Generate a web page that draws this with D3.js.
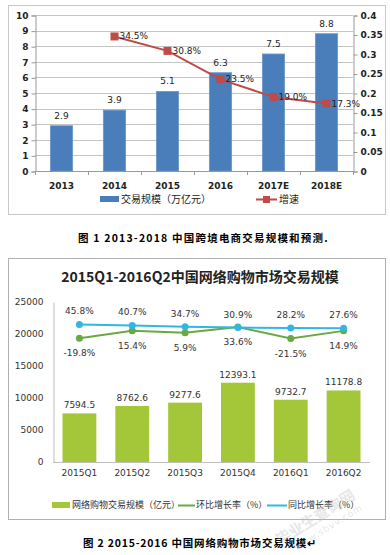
<!DOCTYPE html>
<html>
<head>
<meta charset="utf-8">
<script src="https://cdn.jsdelivr.net/npm/d3@7"></script>
<style>
body { margin: 0; background: #fff; }
svg { display: block; }
text { font-family: "DejaVu Sans", "Noto Sans CJK SC", sans-serif; }
.cjk { font-family: "Noto Sans CJK SC", sans-serif; }
</style>
</head>
<body>
<svg width="390" height="555"></svg>
<script>
// chart 1 data
var years = ["2013", "2014", "2015", "2016", "2017E", "2018E"];
var scale1 = [2.9, 3.9, 5.1, 6.3, 7.5, 8.8];
var growth1 = [null, 0.345, 0.308, 0.235, 0.190, 0.173];
var leftTicks1 = [0, 1, 2, 3, 4, 5, 6, 7, 8, 9, 10];
var rightTicks1 = [0, 0.05, 0.1, 0.15, 0.2, 0.25, 0.3, 0.35, 0.4];

// chart 2 data
var quarters = ["2015Q1", "2015Q2", "2015Q3", "2015Q4", "2016Q1", "2016Q2"];
var scale2 = [7594.5, 8762.6, 9277.6, 12393.1, 9732.7, 11178.8];
var qoq = [-19.8, 15.4, 5.9, 33.6, -21.5, 14.9];
var yoy = [45.8, 40.7, 34.7, 30.9, 28.2, 27.6];
var leftTicks2 = [0, 5000, 10000, 15000, 20000, 25000];

var svg = d3.select("svg");

// ---------- chart 1 ----------
var g1 = svg.append("g");
g1.append("rect").attr("x", 8.5).attr("y", 5.5).attr("width", 377).attr("height", 209)
  .attr("fill", "#fff").attr("stroke", "#c8c8c8");

var x1 = d3.scaleBand().domain(years).range([35, 353]).paddingInner(0.58).paddingOuter(0.29);
var y1 = d3.scaleLinear().domain([0, 10]).range([171, 15]);
var y1r = d3.scaleLinear().domain([0, 0.4]).range([171, 15]);

g1.selectAll(".grid").data(leftTicks1.slice(1)).enter().append("line")
  .attr("x1", 35).attr("x2", 353)
  .attr("y1", function(d) { return Math.round(y1(d)) + 0.5; })
  .attr("y2", function(d) { return Math.round(y1(d)) + 0.5; })
  .attr("stroke", "#c4c4c4");

var axL = g1.append("g").attr("transform", "translate(35.5,0.5)")
  .call(d3.axisLeft(y1).tickValues(leftTicks1).tickSize(4).tickPadding(3));
var axR = g1.append("g").attr("transform", "translate(353.5,0.5)")
  .call(d3.axisRight(y1r).tickValues(rightTicks1).tickSize(4).tickPadding(3)
    .tickFormat(function(d) { return d3.format("~g")(+d.toFixed(2)); }));
[axL, axR].forEach(function(a) {
  a.select(".domain").attr("stroke", "#999");
  a.selectAll(".tick line").attr("stroke", "#999");
  a.selectAll(".tick text").attr("fill", "#222").attr("font-size", 9)
    .attr("font-weight", "bold").attr("font-family", "DejaVu Sans");
});

// x axis
g1.append("line").attr("x1", 35).attr("x2", 353).attr("y1", 171.5).attr("y2", 171.5).attr("stroke", "#999");
var bounds1 = d3.range(years.length + 1).map(function(i) { return 35 + i * x1.step(); });
g1.selectAll(".xt").data(bounds1).enter().append("line")
  .attr("x1", function(d) { return Math.round(d) + 0.5; }).attr("x2", function(d) { return Math.round(d) + 0.5; })
  .attr("y1", 171).attr("y2", 175).attr("stroke", "#999");
g1.selectAll(".xl").data(years).enter().append("text")
  .attr("x", function(d) { return x1(d) + x1.bandwidth() / 2; })
  .attr("y", 189).attr("text-anchor", "middle")
  .attr("font-size", 9).attr("font-weight", "bold").attr("fill", "#222")
  .text(function(d) { return d; });

g1.selectAll(".bar").data(scale1).enter().append("rect")
  .attr("x", function(d, i) { return x1(years[i]); })
  .attr("y", function(d) { return y1(d); })
  .attr("width", x1.bandwidth())
  .attr("height", function(d) { return y1(0) - y1(d); })
  .attr("fill", "#4a7ebb").attr("stroke", "#6b96c9").attr("stroke-width", 0.8);
g1.selectAll(".bl").data(scale1).enter().append("text")
  .attr("x", function(d, i) { return x1(years[i]) + x1.bandwidth() / 2; })
  .attr("y", function(d) { return y1(d) - 7; })
  .attr("text-anchor", "middle").attr("font-size", 9).attr("fill", "#222")
  .text(function(d) { return d.toFixed(1); });

var pts1 = growth1.map(function(d, i) { return {v: d, x: x1(years[i]) + x1.bandwidth() / 2}; })
  .filter(function(d) { return d.v !== null; });
g1.append("path").datum(pts1)
  .attr("d", d3.line().x(function(d) { return d.x; }).y(function(d) { return y1r(d.v); }))
  .attr("fill", "none").attr("stroke", "#be4b48").attr("stroke-width", 2);
g1.selectAll(".mk").data(pts1).enter().append("rect")
  .attr("x", function(d) { return d.x - 4; }).attr("y", function(d) { return y1r(d.v) - 4; })
  .attr("width", 8).attr("height", 8).attr("fill", "#be4b48");
g1.selectAll(".gl").data(pts1).enter().append("text")
  .attr("x", function(d) { return d.x + 5; }).attr("y", function(d) { return y1r(d.v) + 3; })
  .attr("font-size", 9).attr("fill", "#222")
  .text(function(d) { return (d.v * 100).toFixed(1) + "%"; });

// legend 1
g1.append("rect").attr("x", 100).attr("y", 196).attr("width", 19).attr("height", 6).attr("fill", "#4a7ebb");
g1.append("text").attr("class", "cjk").attr("x", 121).attr("y", 203).attr("font-size", 10).attr("fill", "#222")
  .text("交易规模（万亿元）");
g1.append("line").attr("x1", 256).attr("x2", 277).attr("y1", 199.5).attr("y2", 199.5).attr("stroke", "#be4b48").attr("stroke-width", 2);
g1.append("rect").attr("x", 263).attr("y", 196).attr("width", 7).attr("height", 7).attr("fill", "#be4b48");
g1.append("text").attr("class", "cjk").attr("x", 279).attr("y", 203).attr("font-size", 10).attr("fill", "#222")
  .text("增速");

// caption 1
svg.append("text").attr("class", "cjk").attr("x", 78).attr("y", 242)
  .attr("font-size", 10.5).attr("font-weight", "bold").attr("fill", "#000").attr("letter-spacing", 1.2)
  .text("图 1  2013-2018 中国跨境电商交易规模和预测.");

// ---------- chart 2 ----------
var g2 = svg.append("g");
g2.append("rect").attr("x", 8.5).attr("y", 258.5).attr("width", 377).attr("height", 261)
  .attr("fill", "#fff").attr("stroke", "#b0b0b0");
g2.append("text").attr("class", "cjk").attr("x", 200).attr("y", 282).attr("text-anchor", "middle")
  .attr("font-size", 14).attr("font-weight", "bold").attr("fill", "#222")
  .text("2015Q1-2016Q2中国网络购物市场交易规模");

var x2 = d3.scaleBand().domain(quarters).range([53, 370]).paddingInner(0.36).paddingOuter(0.18);
var y2 = d3.scaleLinear().domain([0, 25000]).range([462, 302]);
var r2 = d3.scaleLinear().domain([-100, 100]).range([355, 313]);

var ax2 = g2.append("g").attr("transform", "translate(53.5,0)")
  .call(d3.axisLeft(y2).tickValues(leftTicks2).tickSize(0).tickPadding(10).tickFormat(d3.format("d")));
ax2.select(".domain").attr("stroke", "#bfbfbf");
ax2.selectAll(".tick text").attr("fill", "#333").attr("font-size", 9).attr("font-family", "Open Sans");
g2.append("line").attr("x1", 53).attr("x2", 370).attr("y1", 462.5).attr("y2", 462.5).attr("stroke", "#bfbfbf");

g2.selectAll(".bar").data(scale2).enter().append("rect")
  .attr("x", function(d, i) { return x2(quarters[i]); })
  .attr("y", function(d) { return y2(d); })
  .attr("width", x2.bandwidth())
  .attr("height", function(d) { return y2(0) - y2(d); })
  .attr("fill", "#a4c639");
g2.selectAll(".bl").data(scale2).enter().append("text")
  .attr("x", function(d, i) { return x2(quarters[i]) + x2.bandwidth() / 2; })
  .attr("y", function(d) { return y2(d) - 5; })
  .attr("text-anchor", "middle").attr("font-size", 9).attr("fill", "#333").attr("font-family", "Open Sans")
  .text(function(d) { return d.toFixed(1); });
g2.selectAll(".xl").data(quarters).enter().append("text")
  .attr("x", function(d) { return x2(d) + x2.bandwidth() / 2; })
  .attr("y", 476).attr("text-anchor", "middle")
  .attr("font-size", 9).attr("fill", "#333").attr("font-family", "Open Sans")
  .text(function(d) { return d; });

function cx2(i) { return x2(quarters[i]) + x2.bandwidth() / 2; }
var lineR = d3.line().x(function(d, i) { return cx2(i); }).y(function(d) { return r2(d); });

g2.append("path").datum(qoq).attr("d", lineR).attr("fill", "none")
  .attr("stroke", "#6aa842").attr("stroke-width", 2);
g2.append("path").datum(yoy).attr("d", lineR).attr("fill", "none")
  .attr("stroke", "#30b8e3").attr("stroke-width", 2);
g2.selectAll(".mq").data(qoq).enter().append("circle")
  .attr("cx", function(d, i) { return cx2(i); }).attr("cy", function(d) { return r2(d); })
  .attr("r", 3.5).attr("fill", "#6aa842");
g2.selectAll(".my").data(yoy).enter().append("circle")
  .attr("cx", function(d, i) { return cx2(i); }).attr("cy", function(d) { return r2(d); })
  .attr("r", 3.5).attr("fill", "#30b8e3");
g2.selectAll(".ly").data(yoy).enter().append("text")
  .attr("x", function(d, i) { return cx2(i); }).attr("y", function(d) { return r2(d) - 10; })
  .attr("text-anchor", "middle").attr("font-size", 9).attr("fill", "#333").attr("font-family", "Open Sans")
  .text(function(d) { return d.toFixed(1) + "%"; });
g2.selectAll(".lq").data(qoq).enter().append("text")
  .attr("x", function(d, i) { return cx2(i); }).attr("y", function(d) { return r2(d) + 18; })
  .attr("text-anchor", "middle").attr("font-size", 9).attr("fill", "#333").attr("font-family", "Open Sans")
  .text(function(d) { return d.toFixed(1) + "%"; });

// legend 2
g2.append("rect").attr("x", 52).attr("y", 502).attr("width", 18).attr("height", 6).attr("fill", "#a4c639");
g2.append("text").attr("class", "cjk").attr("x", 72).attr("y", 508).attr("font-size", 9).attr("fill", "#333")
  .text("网络购物交易规模（亿元）");
g2.append("line").attr("x1", 178).attr("x2", 195).attr("y1", 505.5).attr("y2", 505.5).attr("stroke", "#6aa842").attr("stroke-width", 2);
g2.append("text").attr("class", "cjk").attr("x", 196).attr("y", 508).attr("font-size", 9).attr("fill", "#333")
  .text("环比增长率（%）");
g2.append("line").attr("x1", 267).attr("x2", 287).attr("y1", 505.5).attr("y2", 505.5).attr("stroke", "#30b8e3").attr("stroke-width", 2);
g2.append("text").attr("class", "cjk").attr("x", 288).attr("y", 508).attr("font-size", 9).attr("fill", "#333")
  .text("同比增长率（%）");

// caption 2
svg.append("text").attr("class", "cjk").attr("x", 83).attr("y", 547)
  .attr("font-size", 10.5).attr("font-weight", "bold").attr("fill", "#000").attr("letter-spacing", 0.8)
  .text("图 2  2015-2016 中国网络购物市场交易规模↵");

// watermark
var wm = svg.append("g").attr("transform", "translate(318,522) rotate(-32)").attr("opacity", 0.35);
wm.append("text").attr("class", "cjk").attr("x", 0).attr("y", 0).attr("text-anchor", "middle")
  .attr("font-size", 15).attr("font-weight", "bold").attr("fill", "#bbb").text("毕业生查询网");
wm.append("text").attr("x", 6).attr("y", 13).attr("text-anchor", "middle")
  .attr("font-size", 9).attr("fill", "#bbb").attr("letter-spacing", 1).text("www.sbvv.com");
</script>
</body>
</html>
